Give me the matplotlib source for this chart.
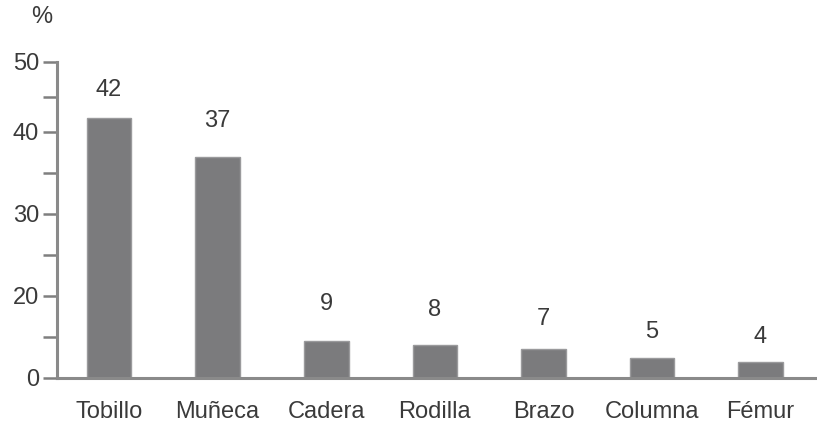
import numpy as np
import matplotlib
matplotlib.use("Agg")
import matplotlib.pyplot as plt
from matplotlib.scale import FuncScale
from matplotlib.ticker import FixedLocator

# ---- data ----
categories = ["Tobillo", "Muñeca", "Cadera", "Rodilla", "Brazo", "Columna", "Fémur"]
values = [42, 37, 9, 8, 7, 5, 4]
value_labels = ["42", "37", "9", "8", "7", "5", "4"]
ytick_major = [0, 20, 30, 40, 50]
ytick_minor = [10, 25, 35, 45]

# ---- axis scale of the original (lower range 0-20 compressed) ----
scale_vals = [0, 20, 30, 40, 50]
scale_pos = [0, 82, 164, 246, 316]

def fwd(y):
    return np.interp(y, scale_vals, scale_pos, left=-1e-9, right=316)

def inv(v):
    return np.interp(v, scale_pos, scale_vals)

# label offsets in pixels above bar tops (layout)
label_offsets_px = [17, 25, 26, 24, 19, 14, 14]

TXT = '#3a3a3a'
FS = 17

plt.rcParams['font.family'] = ['Liberation Sans', 'DejaVu Sans']
fig = plt.figure(figsize=(8.17, 4.26), dpi=100)
ax = fig.add_axes([57/817, 48/426, 1 - 57/817, (378-62)/426])

x = np.arange(len(categories))
ax.bar(x, values, width=0.41, color='#7b7b7d', edgecolor='#9a9a9c', linewidth=1.0, zorder=2)

ax.set_yscale(FuncScale(ax, (fwd, inv)))
ax.set_ylim(0, 50)
ax.set_xlim(-0.48, 6.52)

for xi, v, lab, off in zip(x, values, value_labels, label_offsets_px):
    ax.annotate(lab, (xi, v), xytext=(0, off * 0.72), textcoords='offset points',
                ha='center', va='bottom', fontsize=FS, color=TXT)

ax.yaxis.set_major_locator(FixedLocator(ytick_major))
ax.yaxis.set_minor_locator(FixedLocator(ytick_minor))
ax.set_yticklabels([str(t) for t in ytick_major])
ax.tick_params(axis='y', which='both', length=10, width=1.8, color='#7f7f7f',
               labelsize=FS, labelcolor=TXT, pad=3)
ax.set_xticks(x)
ax.set_xticklabels(categories)
ax.tick_params(axis='x', length=0, labelsize=FS, labelcolor=TXT, pad=16.5)

for s in ['top', 'right']:
    ax.spines[s].set_visible(False)
for s in ['left', 'bottom']:
    ax.spines[s].set_color('#8a8a8a')
    ax.spines[s].set_linewidth(2.2)
    ax.spines[s].set_zorder(3)

fig.text(42/817, 1 - 17/426, "%", ha='center', va='center', fontsize=FS, color=TXT)

fig.savefig("out.png", dpi=100)
